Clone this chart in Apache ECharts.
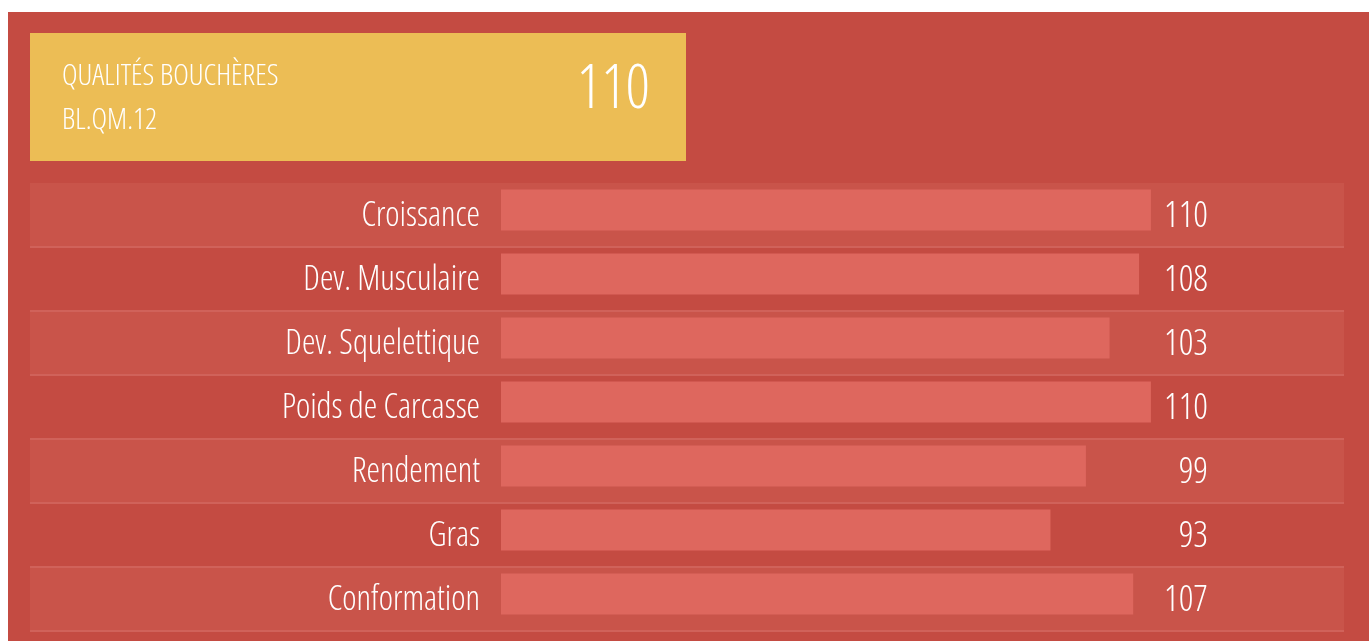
<!DOCTYPE html>
<html>
<head>
<meta charset="utf-8">
<script src="https://cdn.jsdelivr.net/npm/echarts@6/dist/echarts.min.js"></script>
<style>
  html, body { margin: 0; padding: 0; background: #fff; }
  #chart { position: absolute; left: 8px; top: 12px; width: 1361px; height: 629px; }
</style>
</head>
<body>
<div id="chart"></div>
<script>
const titleLines = ['QUALITÉS BOUCHÈRES', 'BL.QM.12']
const indexScore = 110
const categories = ['Croissance', 'Dev. Musculaire', 'Dev. Squelettique', 'Poids de Carcasse', 'Rendement', 'Gras', 'Conformation']
const scores = [110, 108, 103, 110, 99, 93, 107]

const FONT = "'Open Sans', 'Liberation Sans Narrow', sans-serif"
const THIN = '300 condensed'

const chart = echarts.init(document.getElementById('chart'))

const option = {
  backgroundColor: '#C44B42',
  animation: false,
  grid: [
    { left: 22, top: 171, width: 1314, height: 448 },
    { left: 493, top: 166, width: 709, height: 448 }
  ],
  xAxis: [
    { gridIndex: 0, type: 'value', show: false, min: 0, max: 1 },
    { gridIndex: 1, type: 'value', show: false, min: 0, max: 120 }
  ],
  yAxis: [
    {
      gridIndex: 0, type: 'category', inverse: true, data: categories,
      axisLine: { show: false }, axisTick: { show: false }, axisLabel: { show: false },
      splitArea: { show: true, areaStyle: { color: ['#C9544A', 'rgba(0,0,0,0)'] } },
      splitLine: { show: true, interval: (i) => i !== 0, lineStyle: { color: '#D0625A', width: 2 } }
    },
    {
      gridIndex: 1, type: 'category', inverse: true, data: categories,
      axisLine: { show: false }, axisTick: { show: false },
      axisLabel: { color: '#fff', fontSize: 34, fontFamily: FONT, fontWeight: THIN, margin: 21, verticalAlign: 'top', lineHeight: 12 }
    },
    {
      gridIndex: 1, type: 'category', inverse: true, position: 'right',
      data: scores.map(String),
      axisLine: { show: false }, axisTick: { show: false },
      axisLabel: { color: '#fff', fontSize: 36, fontFamily: FONT, fontWeight: THIN, align: 'right', margin: -2, verticalAlign: 'top', lineHeight: 13 }
    }
  ],
  series: [{
    type: 'bar',
    xAxisIndex: 1,
    yAxisIndex: 1,
    data: scores,
    barWidth: 41,
    itemStyle: { color: '#DE675E' }
  }],
  graphic: [
    { type: 'rect', left: 22, top: 21, shape: { width: 656, height: 128 }, style: { fill: '#ECBD55' } },
    { type: 'text', left: 54, top: 50, style: { text: titleLines[0], fill: '#fff', font: THIN + " 29.6px 'Open Sans', sans-serif" } },
    { type: 'text', left: 54, top: 94, style: { text: titleLines[1], fill: '#fff', font: THIN + " 29.6px 'Open Sans', sans-serif" } },
    { type: 'text', right: 1361 - 642, top: 49, style: { text: String(indexScore), fill: '#fff', font: THIN + " 60px 'Open Sans', sans-serif", textAlign: 'right' } }
  ]
}

chart.setOption(option)
</script>
</body>
</html>
